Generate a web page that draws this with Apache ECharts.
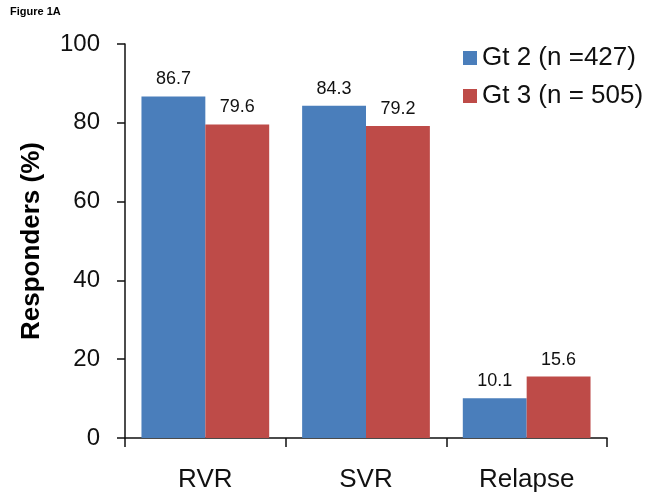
<!DOCTYPE html>
<html>
<head>
<meta charset="utf-8">
<style>
html,body{margin:0;padding:0;background:#fff;}
#chart{width:662px;height:502px;}
</style>
<script src="https://cdn.jsdelivr.net/npm/echarts@6/dist/echarts.min.js"></script>
</head>
<body>
<div id="chart"></div>
<script>
var categories = ['RVR', 'SVR', 'Relapse'];
var gt2Values = [86.7, 84.3, 10.1];
var gt3Values = [79.6, 79.2, 15.6];
var seriesNames = ['Gt 2 (n =427)', 'Gt 3 (n = 505)'];
var yTicks = [0, 20, 40, 60, 80, 100];

var FONT = '"Liberation Sans", Arial, Helvetica, sans-serif';
var chart = echarts.init(document.getElementById('chart'));
chart.setOption({
  animation: false,
  backgroundColor: '#ffffff',
  textStyle: { fontFamily: FONT },
  title: {
    text: 'Figure 1A',
    left: 10, top: 6, padding: 0,
    textStyle: { fontSize: 11, fontWeight: 'bold', color: '#000', fontFamily: FONT }
  },
  grid: { left: 125, right: 55, top: 44, bottom: 64, containLabel: false },
  legend: {
    orient: 'vertical',
    left: 463, top: 45, padding: 0,
    itemWidth: 14, itemHeight: 14, itemGap: 12,
    icon: 'rect',
    textStyle: { fontSize: 26, color: '#111', fontFamily: FONT, lineHeight: 26 },
    data: seriesNames
  },
  xAxis: {
    type: 'category',
    data: categories,
    axisLine: { lineStyle: { color: '#111', width: 1.5 } },
    axisTick: { show: true, length: 9, alignWithLabel: false, lineStyle: { color: '#111', width: 1.5 } },
    axisLabel: { fontSize: 26, color: '#111', margin: 29, fontFamily: FONT }
  },
  yAxis: {
    type: 'value',
    min: 0, max: 100, interval: 20,
    name: 'Responders (%)',
    nameLocation: 'middle',
    nameGap: 80,
    nameRotate: 90,
    nameTextStyle: { fontSize: 26, fontWeight: 'bold', color: '#000', fontFamily: FONT },
    axisLine: { show: true, lineStyle: { color: '#111', width: 1.5 } },
    axisTick: { show: true, length: 8, lineStyle: { color: '#111', width: 1.5 } },
    splitLine: { show: false },
    axisLabel: {
      fontSize: 24, color: '#111', margin: 25, fontFamily: FONT,
      formatter: function (v) { return yTicks.indexOf(v) >= 0 ? String(v) : ''; }
    }
  },
  series: [
    {
      name: seriesNames[0], type: 'bar', data: gt2Values,
      barGap: '0%', barCategoryGap: '20.5%',
      itemStyle: { color: '#4A7EBB' },
      label: { show: true, position: 'top', distance: 8, fontSize: 18, color: '#111', fontFamily: FONT,
        formatter: function (p) { return p.value.toFixed(1); } }
    },
    {
      name: seriesNames[1], type: 'bar', data: gt3Values,
      barGap: '0%', barCategoryGap: '20.5%',
      itemStyle: { color: '#BE4B48' },
      label: { show: true, position: 'top', distance: 8, fontSize: 18, color: '#111', fontFamily: FONT,
        formatter: function (p) { return p.value.toFixed(1); } }
    }
  ]
});
</script>
</body>
</html>
